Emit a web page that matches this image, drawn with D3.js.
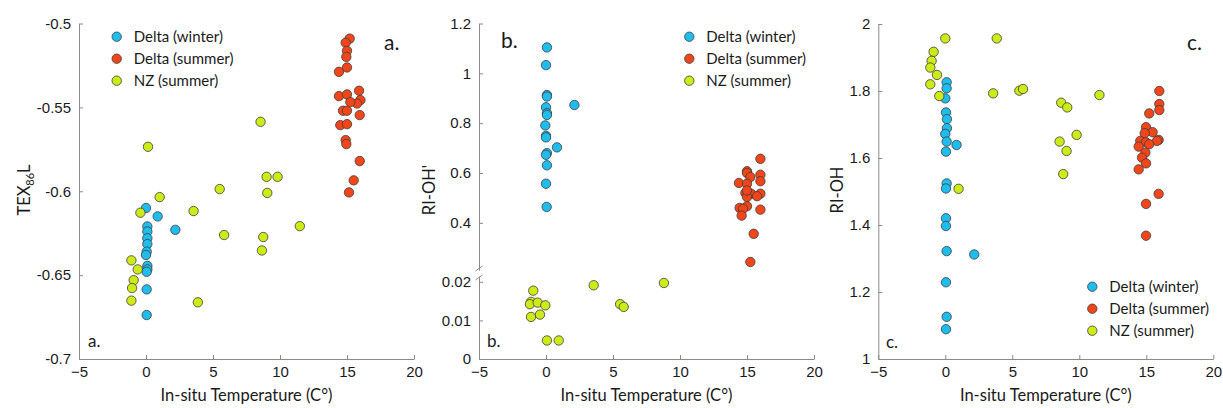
<!DOCTYPE html>
<html>
<head>
<meta charset="utf-8">
<script src="https://cdn.jsdelivr.net/npm/d3@7"></script>
<style>
  body { margin: 0; background: #fff; }
  svg { font-family: Lato, "Open Sans", sans-serif; }
  .axis path, .axis line { stroke: #8a8a8a; }
  .axis text { fill: #1a1a1a; font-size: 15px; }
</style>
</head>
<body>
<svg id="chart" width="1223" height="408"></svg>
<script>
// Значения: [температура, показатель]
const xTicks = [-5, 0, 5, 10, 15, 20];
const seriesNames = ["Delta (winter)", "Delta (summer)", "NZ (summer)"];
const seriesColors = ["#1ebdee", "#f2461a", "#cdeb16"];

// панель a: TEX86L
const texWinter = [[0, -0.610], [0.87, -0.615], [2.19, -0.623], [0.1, -0.621], [0.1, -0.624],
  [0.1, -0.628], [0.1, -0.6315], [0.05, -0.636], [0, -0.638], [0.1, -0.6445], [0.1, -0.6466],
  [0.05, -0.648], [0.05, -0.6585], [0.05, -0.6738]];
const texSummer = [[15.2, -0.509], [14.9, -0.5115], [15.0, -0.5163], [14.95, -0.5199], [15.0, -0.5262],
  [14.4, -0.5288], [14.4, -0.5433], [15.0, -0.5423], [15.9, -0.5401], [16.0, -0.5457], [15.75, -0.5477],
  [15.25, -0.5469], [14.7, -0.552], [15.0, -0.552], [15.95, -0.5546], [14.5, -0.5606], [15.0, -0.560],
  [14.9, -0.5695], [14.95, -0.5719], [15.95, -0.582], [15.5, -0.5935], [15.15, -0.6007]];
const texNZ = [[0.15, -0.5735], [8.55, -0.5586], [9.0, -0.5914], [9.82, -0.5914], [9.05, -0.601],
  [5.5, -0.5987], [1.02, -0.6035], [-0.42, -0.6128], [3.55, -0.6118], [11.48, -0.6208], [5.83, -0.6261],
  [8.75, -0.6273], [8.65, -0.6353], [-1.09, -0.6412], [-0.62, -0.6466], [-0.92, -0.653], [-1.04, -0.6577],
  [-1.09, -0.6652], [3.87, -0.6662]];

// панель b: RI-OH'
const rioh1Winter = [[0.07, 1.104], [0, 1.033], [0.07, 0.913], [0.07, 0.907], [0, 0.864], [0.07, 0.84],
  [0.07, 0.833], [-0.05, 0.791], [0, 0.749], [0, 0.743], [0.07, 0.68], [0, 0.673], [0.82, 0.703],
  [2.12, 0.873], [0.07, 0.631], [0, 0.557], [0.05, 0.464]];
const rioh1Summer = [[16.0, 0.657], [15.0, 0.607], [15.0, 0.6], [15.25, 0.584], [16.0, 0.593], [16.0, 0.567],
  [14.4, 0.56], [15.0, 0.557], [14.88, 0.52], [15.3, 0.517], [16.0, 0.517], [15.75, 0.507], [15.0, 0.504],
  [15.0, 0.53], [14.45, 0.46], [15.0, 0.467], [14.7, 0.456], [16.0, 0.453], [14.6, 0.429], [15.5, 0.356],
  [15.25, 0.243]];
const rioh1NZ = [[-0.95, 0.0177], [-1.12, 0.0148], [-1.2, 0.0142], [-0.62, 0.0146], [-0.05, 0.0139],
  [-1.12, 0.0109], [-0.45, 0.0115], [0.07, 0.0048], [0.95, 0.0048], [3.56, 0.0191], [8.8, 0.0197],
  [5.53, 0.0142], [5.8, 0.0135]];

// панель c: RI-OH
const riohWinter = [[0.1, 1.826], [0.1, 1.808], [0, 1.778], [0.05, 1.736], [0.12, 1.716], [0.12, 1.689],
  [0, 1.672], [0.1, 1.649], [0.84, 1.639], [0.05, 1.619], [0.1, 1.524], [0.05, 1.509], [0.05, 1.42],
  [0.05, 1.397], [0.1, 1.322], [2.16, 1.312], [0.05, 1.229], [0.1, 1.126], [0.05, 1.089]];
const riohSummer = [[15.97, 1.8], [15.97, 1.761], [15.97, 1.743], [15.22, 1.733], [14.98, 1.692],
  [15.47, 1.677], [14.88, 1.674], [14.55, 1.651], [15.92, 1.654], [15.8, 1.651], [14.98, 1.647],
  [15.22, 1.641], [14.43, 1.634], [14.93, 1.616], [14.68, 1.601], [14.98, 1.584], [14.43, 1.566],
  [15.92, 1.493], [14.98, 1.463], [14.98, 1.368]];
const riohNZ = [[0, 1.957], [3.84, 1.957], [-0.87, 1.917], [-1.02, 1.89], [-1.12, 1.87], [-0.62, 1.848],
  [-1.12, 1.82], [-0.45, 1.785], [3.57, 1.793], [5.53, 1.801], [5.8, 1.806], [8.65, 1.765], [9.1, 1.751],
  [11.5, 1.788], [9.8, 1.669], [8.53, 1.649], [9.05, 1.621], [8.8, 1.552], [0.99, 1.508]];

const texTicks = [-0.7, -0.65, -0.6, -0.55, -0.5];
const rioh1UpperTicks = [0.4, 0.6, 0.8, 1, 1.2];
const rioh1LowerTicks = [0, 0.01, 0.02];
const riohTicks = [1, 1.2, 1.4, 1.6, 1.8, 2];

const svg = d3.select("#chart");
const plotBottom = 359, plotTop = 23.5, r = 4.7;

// ось X
const drawXAxis = (g, x) => {
  g.append("g")
    .attr("class", "axis")
    .attr("transform", `translate(0,${plotBottom})`)
    .call(d3.axisBottom(x).tickValues(xTicks).tickSizeInner(-4).tickSizeOuter(0).tickPadding(7));
};

const drawYAxis = (g, y, ticks, x0) => {
  g.append("g")
    .attr("class", "axis")
    .attr("transform", `translate(${x0},0)`)
    .call(d3.axisLeft(y).tickValues(ticks).tickSizeInner(-4).tickSizeOuter(0).tickPadding(8)
      .tickFormat(d => d));
};

const drawPoints = (g, x, y, sets) => {
  sets.forEach((pts, i) => {
    g.append("g").selectAll("circle")
      .data(pts)
      .enter()
      .append("circle")
      .attr("cx", d => x(d[0]))
      .attr("cy", d => y(d[1]))
      .attr("r", r)
      .attr("fill", seriesColors[i])
      .attr("stroke", "#3c3c3c")
      .attr("stroke-width", 0.8);
  });
};

const drawLegend = (g, lx, ly) => {
  seriesNames.forEach((name, i) => {
    g.append("circle")
      .attr("cx", lx).attr("cy", ly + i * 22).attr("r", r)
      .attr("fill", seriesColors[i]).attr("stroke", "#3c3c3c").attr("stroke-width", 0.8);
    g.append("text")
      .attr("x", lx + 17).attr("y", ly + i * 22 + 5.5)
      .attr("font-size", 15).attr("fill", "#1a1a1a")
      .text(name);
  });
};

const label = (g, x, y, txt, size) => {
  g.append("text").attr("x", x).attr("y", y).attr("font-size", size).attr("fill", "#1a1a1a").text(txt);
};

const xLabel = (g, x) => {
  g.append("text")
    .attr("x", (x.range()[0] + x.range()[1]) / 2)
    .attr("y", 401)
    .attr("text-anchor", "middle")
    .attr("font-size", 16.5).attr("fill", "#1a1a1a")
    .text("In-situ Temperature (C°)");
};

const yLabel = (g, cx, cy) => {
  return g.append("text")
    .attr("transform", `translate(${cx},${cy}) rotate(-90)`)
    .attr("text-anchor", "middle")
    .attr("font-size", 16.5).attr("fill", "#1a1a1a");
};

// ---- панель a ----
const ga = svg.append("g");
const xa = d3.scaleLinear().domain([-5, 20]).range([79, 414]);
const ya = d3.scaleLinear().domain([-0.7, -0.5]).range([plotBottom, plotTop]);
drawXAxis(ga, xa);
drawYAxis(ga, ya, texTicks, 79);
drawPoints(ga, xa, ya, [texWinter, texSummer, texNZ]);
drawLegend(ga, 116.7, 36.7);
label(ga, 384, 50, "a.", 21);
label(ga, 88, 347, "a.", 17);
xLabel(ga, xa);
const ta = yLabel(ga, 30, 190);
ta.append("tspan").text("TEX");
ta.append("tspan").attr("font-size", 11).attr("dy", 4).text("86");
ta.append("tspan").attr("dy", -4).text("L");

// ---- панель b (разрыв оси) ----
const gb = svg.append("g");
const xb = d3.scaleLinear().domain([-5, 20]).range([479, 814]);
const ybUp = d3.scaleLinear().domain([0.21, 1.2]).range([270.2, plotTop]);
const ybLow = d3.scaleLinear().domain([0, 0.0215]).range([plotBottom, 276]);
const yb = v => (v <= 0.0215 ? ybLow(v) : ybUp(v));
drawXAxis(gb, xb);
drawYAxis(gb, ybUp, rioh1UpperTicks, 479);
drawYAxis(gb, ybLow, rioh1LowerTicks, 479);
// отметки разрыва
[268.5, 277.5].forEach(yy => {
  gb.append("line")
    .attr("x1", 479 - 3.5).attr("x2", 479 + 3.5)
    .attr("y1", yy + 2.5).attr("y2", yy - 2.5)
    .attr("stroke", "#8a8a8a").attr("stroke-width", 1);
});
drawPoints(gb, xb, yb, [rioh1Winter, rioh1Summer, rioh1NZ]);
drawLegend(gb, 689.3, 36.7);
label(gb, 501, 48, "b.", 21);
label(gb, 487, 347, "b.", 17);
xLabel(gb, xb);
yLabel(gb, 435, 190).text("RI-OH'");

// ---- панель c ----
const gc = svg.append("g");
const xc = d3.scaleLinear().domain([-5, 20]).range([878.3, 1213.3]);
const yc = d3.scaleLinear().domain([1, 2]).range([plotBottom, 24]);
drawXAxis(gc, xc);
drawYAxis(gc, yc, riohTicks, 878.3);
drawPoints(gc, xc, yc, [riohWinter, riohSummer, riohNZ]);
drawLegend(gc, 1092.3, 286.7);
label(gc, 1187, 50, "c.", 21);
label(gc, 886, 348, "c.", 17);
xLabel(gc, xc);
yLabel(gc, 843, 190).text("RI-OH");
</script>
</body>
</html>
